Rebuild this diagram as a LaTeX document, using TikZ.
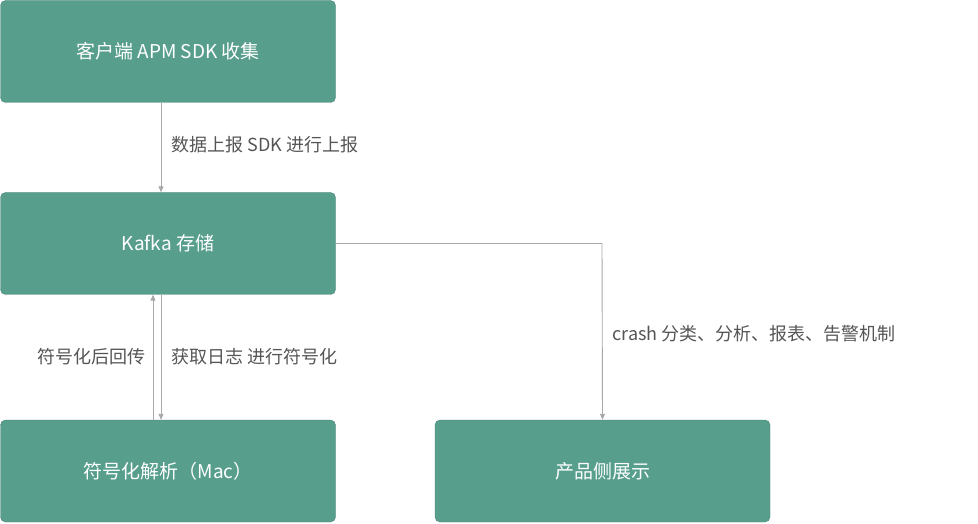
\documentclass[tikz,border=0pt]{standalone}
\usepackage{fontspec}
\setmainfont{Noto Sans CJK SC}
\usetikzlibrary{arrows.meta,positioning,calc}
\definecolor{boxgreen}{HTML}{579E8C}
\definecolor{linegray}{HTML}{A8A8A8}
\definecolor{textgray}{HTML}{555555}
\begin{document}
\begin{tikzpicture}
[x=1pt,y=1pt,
box/.style={draw=boxgreen!85!black,fill=boxgreen,rounded corners=5pt,
  minimum width=335pt,minimum height=102pt,text=white,font=\fontsize{19}{22}\selectfont},
flow/.style={draw=linegray,line width=0.9pt,-{Triangle[length=6pt,width=5pt]}},
lbl/.style={text=textgray,font=\fontsize{18}{22}\selectfont}]
\useasboundingbox (0,0) rectangle (978,523);
\node (collect) at (168,471.5) [box] {客户端 APM SDK 收集};
\node (kafka) at (168,279.5) [box] {Kafka 存储};
\node (symbol) at (168,52) [box] {符号化解析（Mac）};
\node (product) at (602.5,52) [box] {产品侧展示};
\coordinate (corner) at (602,279.5);
% connectors
\draw[flow] ([xshift=-7pt]collect.south) -- ([xshift=-7pt]kafka.north);
\draw[flow] ([xshift=-7pt]kafka.south) -- ([xshift=-7pt]symbol.north);
\draw[flow] ([xshift=-15pt]symbol.north) -- ([xshift=-15pt]kafka.south);
\draw[flow] (kafka.east) -- (corner) -- (product.north);
% labels
\node[lbl,anchor=west] (upload) at (168,378) {数据上报 SDK 进行上报};
\node[lbl,anchor=east] (back) at (149,166) {符号化后回传};
\node[lbl,anchor=west] (fetch) at (168,166) {获取日志 进行符号化};
\node[lbl,anchor=west] (crash) at (609,189) {crash 分类、分析、报表、告警机制};
\end{tikzpicture}
\end{document}
